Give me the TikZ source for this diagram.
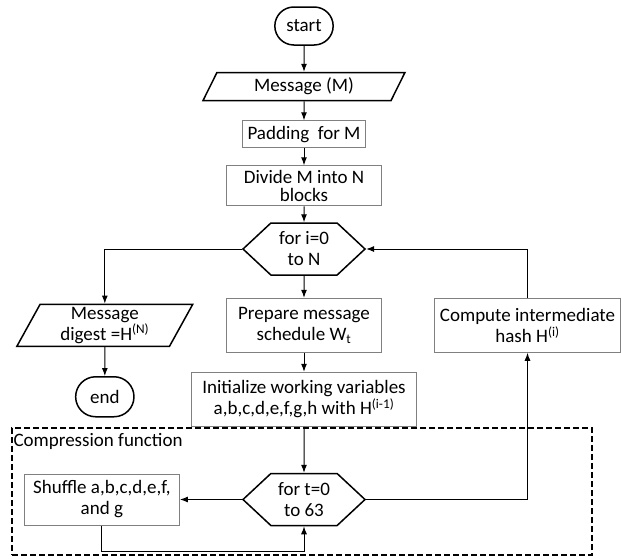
\documentclass[tikz,border=0pt]{standalone}
\usepackage{fontspec}
\setmainfont{Carlito}
\usetikzlibrary{arrows.meta,shapes.geometric,shapes.misc,shapes.symbols,fit,calc,positioning}
\definecolor{processColor}{RGB}{128,128,128}
\tikzset{process/.style={draw=processColor, line width=1pt, fill=white, align=center, inner sep=1pt, minimum width=155pt, minimum height=54pt}}
\tikzset{terminal/.style={rounded rectangle, draw, line width=1.5pt, align=center, minimum width=65pt, minimum height=38pt}}
\tikzset{io/.style={trapezium, trapezium left angle=67, trapezium right angle=113, trapezium stretches=true, draw, line width=1.5pt, align=center, inner sep=1pt, minimum height=28pt}}
\tikzset{loop/.style={signal, signal to=west and east, signal pointer angle=86, draw, line width=1.5pt, align=center, inner sep=1pt, minimum width=122pt, minimum height=52pt}}
\tikzset{frame/.style={draw, dashed, line width=1.2pt, dash pattern=on 6pt off 3pt, inner sep=0pt}}

\begin{document}
\begin{tikzpicture}[font=\fontsize{19}{21}\selectfont]
\useasboundingbox (0,0) rectangle (621pt,-558pt);
% Nodes
\node (Start) [terminal] at (304pt,-26pt) {start};
\node (Message) [io, minimum width=202pt, below=26pt of Start] {Message (M)};
\node (Padding) [process, minimum width=123pt, minimum height=27pt, below=19pt of Message] {Padding\ \ for M};
\node (DivideBlocks) [process, minimum height=40pt, below=17pt of Padding] {Divide M into N\\[-3pt]blocks};
\node (LoopI) [loop, below=16pt of DivideBlocks] {for i=0\\to N};
\node (PrepareSchedule) [process, below=22pt of LoopI] {Prepare message\\schedule W\textsubscript{t}};
\node (InitVariables) [process, minimum width=225pt, below=19pt of PrepareSchedule] {Initialize working variables\\a,b,c,d,e,f,g,h with H\textsuperscript{(i-1)}};
\node (ComputeHash) [process, minimum width=186pt, right=52pt of PrepareSchedule] {Compute intermediate\\hash H\textsuperscript{(i)}};

\node (MessageDigest) [io, minimum width=176pt, minimum height=42pt, left=44pt of PrepareSchedule] {Message\\digest =H\textsuperscript{(N)}};
\node (End) [terminal, minimum height=40pt, below=29pt of MessageDigest] {end};

\node (LoopT) [loop, below=46pt of InitVariables] {for t=0\\to 63};
\node (Shuffle) [process, minimum height=51pt, left=62pt of LoopT] {Shuffle a,b,c,d,e,f,\\and g};

\coordinate (FrameSW) at (12pt,-555pt);
\coordinate (FrameNE) at (592pt,-428pt);
\node (CompressionFrame) [frame, fit=(FrameSW) (FrameNE)] {};
\node (CompressionLabel) [anchor=north west, inner xsep=2pt, inner ysep=6pt] at (CompressionFrame.north west) {Compression function};

% Connectors
\begin{scope}[-{Latex[length=8pt,width=6pt]}, line width=1pt]
\draw (Start) -- (Message);
\draw (Message) -- (Padding);
\draw (Padding) -- (DivideBlocks);
\draw (DivideBlocks) -- (LoopI);
\draw (LoopI) -- (PrepareSchedule);
\draw (PrepareSchedule) -- (InitVariables);
\draw (InitVariables) -- (LoopT);

\draw (LoopI.west) -| (MessageDigest.north);
\draw (MessageDigest) -- (End);

\draw (ComputeHash.north) |- (LoopI.east);
\draw (LoopT.east) -| (ComputeHash.south);
\draw (LoopT.west) -- (Shuffle.east);
\draw (Shuffle.south) -- ++(0,-26pt) -| (LoopT.south);
\end{scope}

\end{tikzpicture}
\end{document}
